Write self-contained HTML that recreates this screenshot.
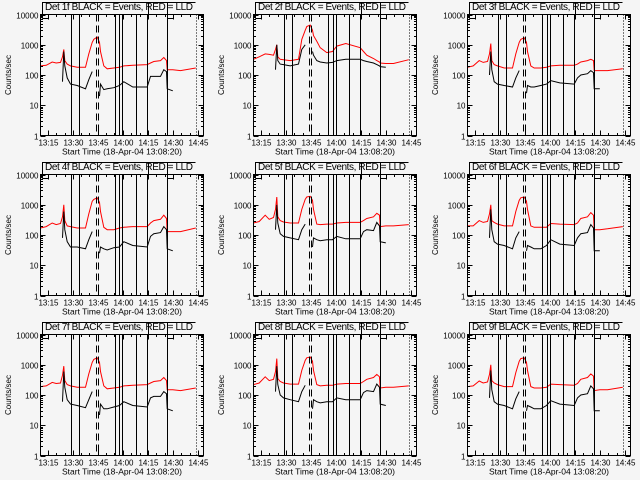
<!DOCTYPE html>
<html><head><meta charset="utf-8"><style>
body{margin:0;background:#f5f5f5}
svg{display:block;font-family:"Liberation Sans",sans-serif}
</style></head><body>
<svg id="chart" width="640" height="480" viewBox="0 0 640 480"></svg>
<script>
const N=null;
const times=[10.6,14,17.6,20,22.6,23.8,24.6,25.2,26.6,28.6,32.6,37.6,39.6,41.6,42.6,44.6,46,46.6,48.6,50.6,54.6,58,60.6,66,74.6,76.6,78.6,82.6,84.6,86.2,86.6,90,94.6,103.8];
const detectors=["1f","2f","3f","4f","5f","6f","7f","8f","9f"];
const red1=[200,210,270,250,260,400,700,300,230,200,180,180,500,1200,1500,1800,1200,600,200,160,170,180,200,210,220,250,280,300,380,300,150,150,140,170];
const blk1=[N,N,N,N,N,60,600,200,80,50,45,35,70,130,N,N,20,50,33,35,38,45,60,40,40,90,90,90,150,130,35,30,N,N];
const red2=[330,400,500,480,450,700,1000,400,330,320,300,330,1500,3000,4000,4500,3000,2000,1300,800,550,600,900,1100,800,600,450,350,300,270,250,240,240,320];
const blk2=[N,N,N,N,N,150,1000,300,230,220,200,230,700,1000,N,N,600,450,300,270,250,260,300,330,330,300,280,250,220,200,190,180,N,N];
const red3=[180,200,300,260,280,500,1100,300,220,200,170,170,500,1200,1500,1700,1200,600,200,170,170,180,200,210,210,230,270,300,330,300,140,140,140,160];
const blk3=[N,N,N,N,N,100,600,150,60,50,45,40,80,140,N,N,25,45,40,40,45,50,65,55,50,80,100,110,140,120,35,35,N,N];
const red4=[170,190,250,220,240,400,1000,300,200,190,170,170,500,1300,1500,1700,1200,600,180,150,150,170,180,190,190,250,300,330,450,350,130,130,130,170];
const blk4=[N,N,N,N,N,80,600,150,60,40,40,35,70,130,N,N,25,40,35,32,38,40,60,45,40,90,110,120,190,150,35,30,N,N];
const red5=[250,280,450,330,380,700,1800,400,300,270,250,250,700,1500,1800,1900,1400,700,230,220,230,230,250,260,260,300,350,400,520,450,190,200,200,220];
const blk5=[N,N,N,N,N,150,1000,250,110,90,80,70,150,230,N,N,40,80,70,65,70,70,90,75,75,130,150,140,260,200,60,55,N,N];
const red6=[200,200,300,260,280,500,1000,300,260,230,200,200,600,1400,1700,1800,1300,700,200,180,180,180,240,230,220,250,350,400,550,450,150,150,160,190];
const blk6=[N,N,N,N,N,80,700,150,60,50,45,35,80,130,N,N,30,45,40,35,35,45,70,50,45,80,110,120,220,170,30,30,N,N];
const red7=[190,200,260,240,250,450,900,300,220,200,180,180,500,1200,1500,1700,1200,600,200,160,170,180,200,210,220,250,280,300,380,300,150,150,140,170];
const blk7=[N,N,N,N,N,60,600,180,70,50,45,38,70,130,N,N,22,50,35,35,40,45,60,45,40,80,90,90,130,110,35,30,N,N];
const red8=[220,250,400,300,330,600,1600,350,280,250,230,230,650,1400,1700,1800,1300,650,220,200,210,210,230,240,240,280,330,380,480,400,170,180,180,200];
const blk8=[N,N,N,N,N,130,900,220,100,80,70,60,130,210,N,N,35,70,60,55,60,60,80,70,70,120,140,130,230,180,50,45,N,N];
const red9=[190,200,290,250,270,480,1000,300,250,220,190,190,550,1300,1600,1700,1200,650,190,170,170,180,230,220,210,240,330,380,500,420,140,150,150,180];
const blk9=[N,N,N,N,N,80,650,150,60,50,45,35,75,130,N,N,30,45,40,35,35,45,65,50,45,80,100,110,200,160,30,30,N,N];
const redSeries=[red1,red2,red3,red4,red5,red6,red7,red8,red9];
const blkSeries=[blk1,blk2,blk3,blk4,blk5,blk6,blk7,blk8,blk9];
const solidLines=[28.8,33.6,55.2,58.0,59.8,67.8,74.6,86.2];
const dashedLines=[43.6,45.2];
const dottedLines=[103.8];
const xTickTimes=[15,30,45,60,75,90,105];
const xTickLabels=["13:15","13:30","13:45","14:00","14:15","14:30","14:45"];
const yTickValues=[1,10,100,1000,10000];
const yTickLabels=["1","10","100","1000","10000"];

const svg=document.getElementById('chart');
const NS='http://www.w3.org/2000/svg';
function mk(tag,attrs,parent){const e=document.createElementNS(NS,tag);for(const k in attrs)e.setAttribute(k,attrs[k]);parent.appendChild(e);return e;}
const T0=10.6,T1=108.4;
for(let p=0;p<9;p++){
  const ox=Math.round((p%3)*213.3), oy=(Math.floor(p/3))*160;
  const L=ox+40.5,R=ox+203.5,Tp=oy+14.5,B=oy+135.5;
  const xs=t=>L+(t-T0)/(T1-T0)*(R-L);
  const ys=v=>B-(Math.log10(v)/4)*(B-Tp);
  const g=mk('g',{},svg);
  
  
  [[redSeries[p],'#ff0000','red-lld-series'],[blkSeries[p],'#000','black-events-series']].forEach(([vals,col,name])=>{
    let d='',pen=false;
    vals.forEach((v,i)=>{if(v==null){pen=false;return;}d+=(pen?'L':'M')+xs(times[i]).toFixed(1)+' '+ys(v).toFixed(1);pen=true;});
    const path=mk('path',{d:d,fill:'none',stroke:col,'stroke-width':1},g);
    
    
  });
  solidLines.forEach(t=>{const l=mk('line',{x1:Math.round(xs(t))+0.5,x2:Math.round(xs(t))+0.5,y1:Tp,y2:B,stroke:'#000','stroke-width':1},g);});
  dashedLines.forEach(t=>{const l=mk('line',{x1:Math.round(xs(t))+0.5,x2:Math.round(xs(t))+0.5,y1:Tp,y2:B,stroke:'#000','stroke-width':1,'stroke-dasharray':'7,4'},g);});
  dottedLines.forEach(t=>{const l=mk('line',{x1:Math.round(xs(t))+0.5,x2:Math.round(xs(t))+0.5,y1:Tp,y2:B,stroke:'#000','stroke-width':1,'stroke-dasharray':'1,2'},g);});
  mk('path',{d:`M${L+2} ${Tp+4}V${oy+2.5}H${R-8}`,fill:'none',stroke:'#000','stroke-width':1},g);
  mk('path',{d:`M${L+2} ${Tp+4}H${L+8}M${Math.round(xs(86.6))+0.5} ${oy+2.5}V${Tp+4}H${xs(86.6)+6}M${Math.round(xs(74.8))+0.5} ${oy+2.5}V${Tp+2}`,fill:'none',stroke:'#000','stroke-width':1},g);
  const fr=mk('rect',{x:L,y:Tp,width:R-L,height:B-Tp,fill:'none',stroke:'#000','stroke-width':1},g);
  
  yTickValues.forEach((v,i)=>{
    const y=Math.round(ys(v))+0.5;
    mk('line',{x1:L,x2:L+5,y1:y,y2:y,stroke:'#000'},g);mk('line',{x1:R,x2:R-5,y1:y,y2:y,stroke:'#000'},g);
    if(i<4)for(let m=2;m<10;m++){const ym=Math.round(ys(v*m))+0.5;mk('line',{x1:L,x2:L+2.5,y1:ym,y2:ym,stroke:'#000'},g);mk('line',{x1:R,x2:R-2.5,y1:ym,y2:ym,stroke:'#000'},g);}
    const tx=mk('text',{x:L-2,y:y+3,'font-size':8,'text-anchor':'end'},g);tx.textContent=yTickLabels[i];
    
  });
  xTickTimes.forEach((t,i)=>{
    const x=Math.round(xs(t))+0.5;
    mk('line',{x1:x,x2:x,y1:B,y2:B-5,stroke:'#000'},g);mk('line',{x1:x,x2:x,y1:Tp,y2:Tp+5,stroke:'#000'},g);
    for(let m=5;m<15;m+=5){const xm=Math.round(xs(t-15+m))+0.5;if(xm>L){mk('line',{x1:xm,x2:xm,y1:B,y2:B-2.5,stroke:'#000'},g);mk('line',{x1:xm,x2:xm,y1:Tp,y2:Tp+2.5,stroke:'#000'},g);}}
    const tx=mk('text',{x:x,y:B+10,'font-size':8,'text-anchor':'middle'},g);tx.textContent=xTickLabels[i];
    
  });
  const xt=mk('text',{x:(L+R)/2,y:B+19,'font-size':8.5,'text-anchor':'middle'},g);xt.textContent='Start Time (18-Apr-04 13:08:20)';
  
  const yt=mk('text',{x:0,y:0,'font-size':8,'text-anchor':'middle',transform:`translate(${ox+11},${(Tp+B)/2}) rotate(-90)`},g);yt.textContent='Counts/sec';
  
  const tt=mk('text',{x:(L+R)/2-3,y:oy+10,'font-size':10,'text-anchor':'middle','textLength':148,'lengthAdjust':'spacing'},g);tt.textContent='Det '+detectors[p]+' BLACK = Events, RED = LLD';
  
}
</script>
</body></html>
